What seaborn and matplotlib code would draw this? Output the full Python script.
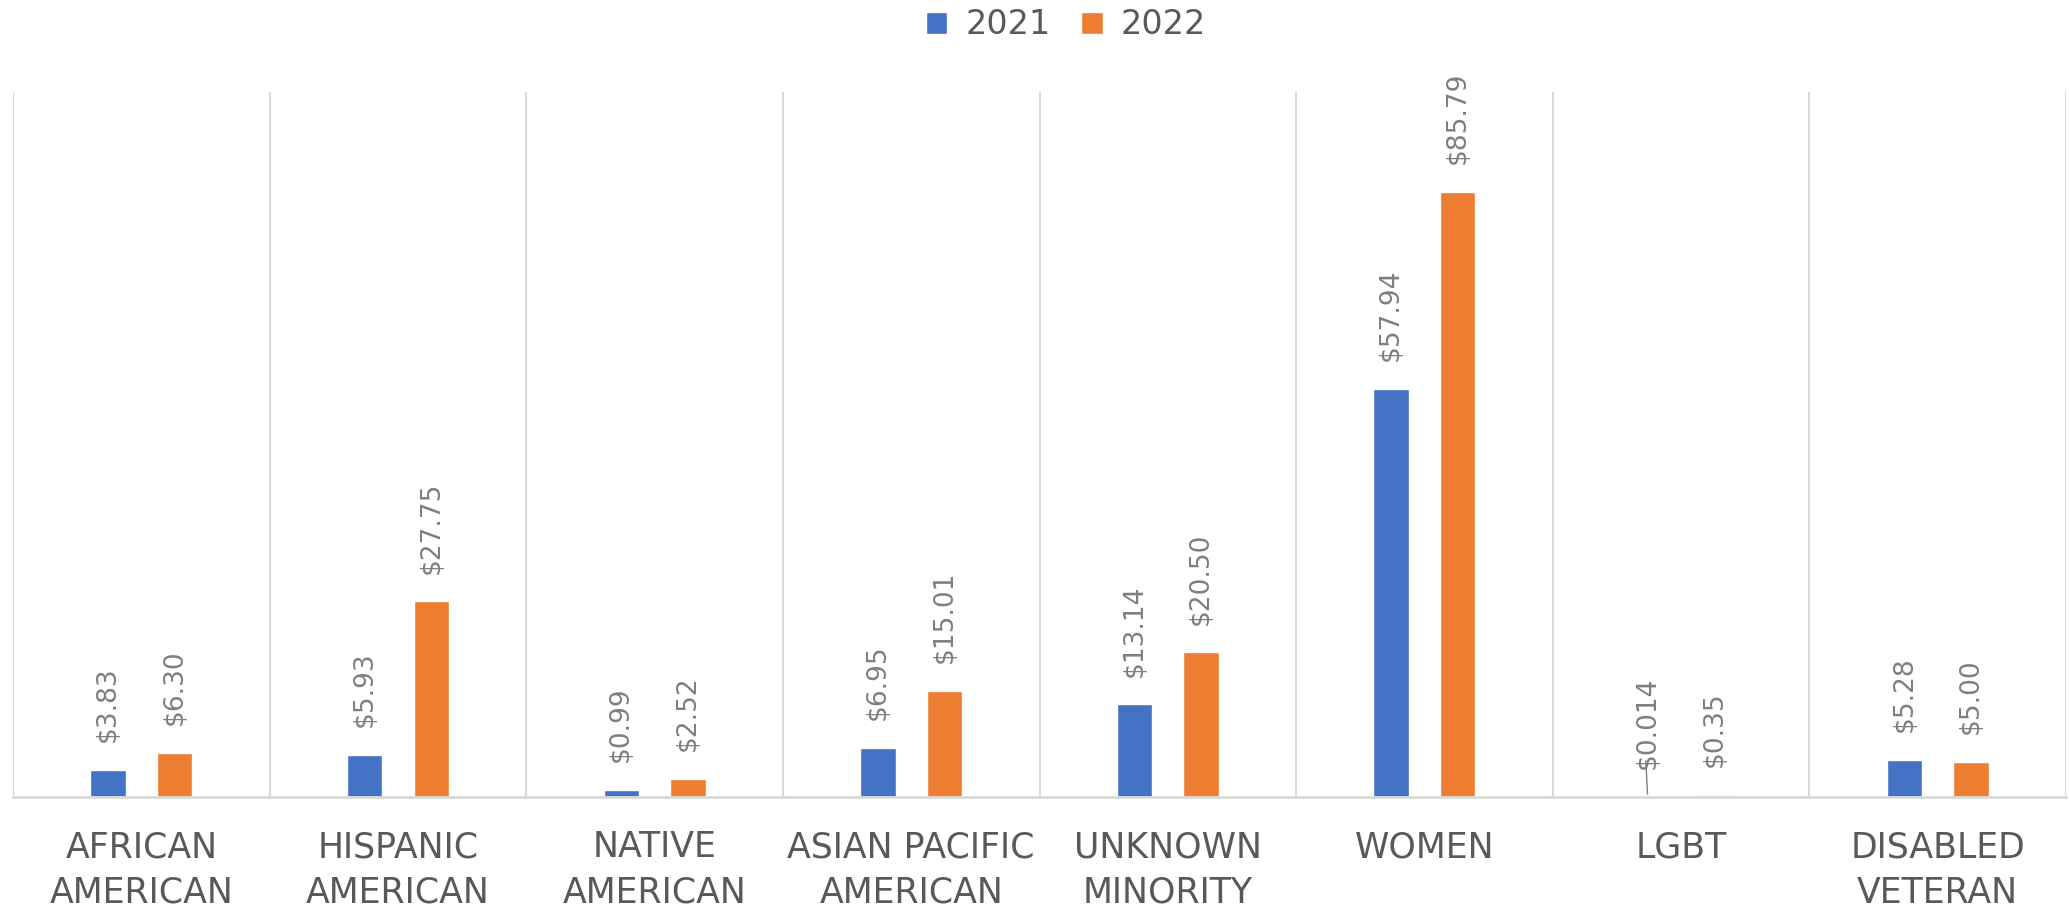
import numpy as np
import pandas as pd
import matplotlib
matplotlib.use("Agg")
import matplotlib.pyplot as plt
import seaborn as sns

# values (millions of dollars)
categories = ["AFRICAN\nAMERICAN", "HISPANIC\nAMERICAN", "NATIVE\nAMERICAN",
              "ASIAN PACIFIC\nAMERICAN", "UNKNOWN\nMINORITY", "WOMEN",
              "LGBT", "DISABLED\nVETERAN"]
years = ["2021", "2022"]
vals_2021 = [3.83, 5.93, 0.99, 6.95, 13.14, 57.94, 0.014, 5.28]
vals_2022 = [6.30, 27.75, 2.52, 15.01, 20.50, 85.79, 0.35, 5.00]
labels_2021 = ["$3.83", "$5.93", "$0.99", "$6.95", "$13.14", "$57.94", "$0.014", "$5.28"]
labels_2022 = ["$6.30", "$27.75", "$2.52", "$15.01", "$20.50", "$85.79", "$0.35", "$5.00"]

df = pd.DataFrame({
    "Category": categories * 2,
    "Year": [years[0]] * len(categories) + [years[1]] * len(categories),
    "Value": vals_2021 + vals_2022,
})

sns.set_style("white")
plt.rcParams['font.family'] = ['DejaVu Sans']

fig = plt.figure(figsize=(20.69, 9.08), dpi=100)
ax = fig.add_axes([13 / 2069, 111 / 908, (2066 - 13) / 2069, (797 - 92) / 908])

sns.barplot(data=df, x="Category", y="Value", hue="Year",
            palette=["#4472C4", "#ED7D31"], saturation=1, width=0.52, gap=0.47,
            ax=ax, legend=True)

ax.set_ylim(0, 100)
ax.set_xlim(-0.5, len(categories) - 0.5)

# data labels
for cont, labs in zip(ax.containers, [labels_2021, labels_2022]):
    for bar, lab in zip(cont, labs):
        x = bar.get_x() + bar.get_width() / 2
        h = bar.get_height()
        ax.annotate(lab, (x, h), xytext=(0, 20), textcoords="offset points",
                    rotation=90, ha="center", va="bottom",
                    fontsize=19, color="#7F7F7F")
        if h < 0.1:
            # leader line like the moved label in the original
            ax.annotate("", (x, h), xytext=(-1.5, 28), textcoords="offset points",
                        arrowprops=dict(arrowstyle="-", color="#7F7F7F", lw=1))

# vertical separators between categories
ax.set_xticks(np.arange(-0.5, len(categories)), minor=True)
ax.grid(which="minor", axis="x", color="#D9D9D9", lw=1.5)
ax.tick_params(axis="x", which="both", length=0, pad=24)
ax.set_xticks(range(len(categories)))
ax.set_xticklabels(categories, fontsize=25, color="#595959", linespacing=1.42)
ax.set_yticks([])
ax.set_xlabel("")
ax.set_ylabel("")
for s in ["top", "right", "left"]:
    ax.spines[s].set_visible(False)
ax.spines["bottom"].set_color("#D9D9D9")
ax.spines["bottom"].set_linewidth(2)

handles, lbls = ax.get_legend_handles_labels()
ax.legend_.remove()
fig.legend(handles, lbls, loc="center", bbox_to_anchor=(1066 / 2069, 1 - 25 / 908),
           ncol=2, frameon=False, fontsize=24, labelcolor="#595959",
           handlelength=0.65, handleheight=0.65, handletextpad=0.55,
           columnspacing=0.9)

fig.savefig("out.png", dpi=100)
